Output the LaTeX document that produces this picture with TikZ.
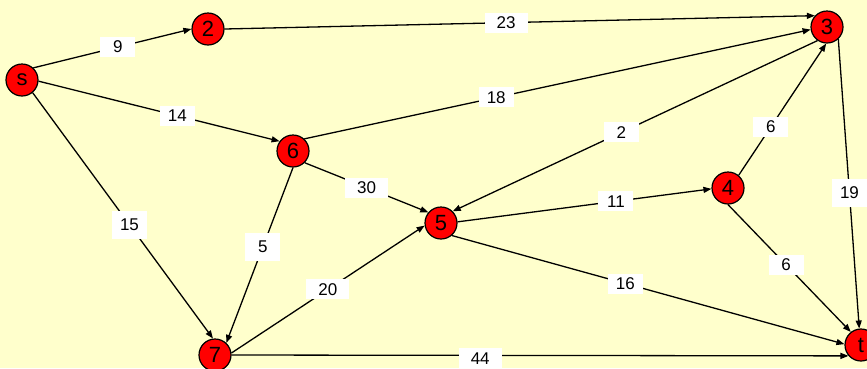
\documentclass[tikz,border=0pt]{standalone}
\usepackage{fontspec}
\setmainfont{Liberation Sans}
\usetikzlibrary{arrows.meta}
\definecolor{bg}{HTML}{FFFFCC}
\definecolor{nodered}{HTML}{FF0000}
\begin{document}
\begin{tikzpicture}[x=1pt,y=-1pt,
  vertex/.style={circle,draw=black,fill=nodered,line width=1.2pt,minimum size=32pt,inner sep=0pt,font=\fontsize{22}{22}\selectfont},
  wlabel/.style={fill=white,inner sep=0pt,minimum width=35pt,minimum height=20pt,font=\fontsize{17}{17}\selectfont},
  wide/.style={minimum width=43pt},
  tall/.style={minimum height=28pt},
  conn/.style={line width=1.3pt,-{Triangle[length=8pt,width=6pt]}}]
\fill[bg] (0,0) rectangle (867,368);
\useasboundingbox (0,0) rectangle (867,368);
% vertices
\node[vertex] (s) at (22,80) {s};
\node[vertex] (n2) at (208,29) {2};
\node[vertex] (n3) at (827,27) {3};
\node[vertex] (n6) at (293,151) {6};
\node[vertex] (n5) at (441,223) {5};
\node[vertex] (n4) at (728,188) {4};
\node[vertex] (n7) at (215,355) {7};
\node[vertex] (t) at (861,345) {t};
% edges
\draw[conn] (s.47) -- node[wlabel,pos=0.535] (l9) {9} (n2.180);
\draw[conn] (s.-4) -- node[wlabel,pos=0.576] (l14) {14} (n6.144);
\draw[conn] (s.-50) -- node[wlabel,tall,pos=0.537] (l15) {15} (n7.97);
\draw[conn] (n2.0) -- node[wlabel,wide,pos=0.477] (l23) {23} (n3.137);
\draw[conn] (n6.47) -- node[wlabel,pos=0.379] (l18) {18} (n3.189);
\draw[conn] (n3.235) -- node[wlabel,pos=0.538] (l2) {2} (n5.45);
\draw[conn] (n6.-45) -- node[wlabel,wide,pos=0.5] (l30) {30} (n5.140);
\draw[conn] (n6.-90) -- node[wlabel,tall,pos=0.451] (l5) {5} (n7.47);
\draw[conn] (n7.7) -- node[wlabel,wide,pos=0.499] (l20) {20} (n5.189);
\draw[conn] (n7.0) -- node[wlabel,wide,pos=0.403,yshift=-3pt] (l44) {44} (t.221);
\draw[conn] (n5.4) -- node[wlabel,pos=0.624] (l11) {11} (n4.183);
\draw[conn] (n5.-49) -- node[wlabel,pos=0.442] (l16) {16} (t.177);
\draw[conn] (n4.50) -- node[wlabel,pos=0.369] (l6a) {6} (n3.267);
\draw[conn] (n4.-90) -- node[wlabel,pos=0.473] (l6b) {6} (t.128);
\draw[conn] (n3.313) -- node[wlabel,tall,pos=0.532] (l19) {19} (t.96);
\end{tikzpicture}
\end{document}
